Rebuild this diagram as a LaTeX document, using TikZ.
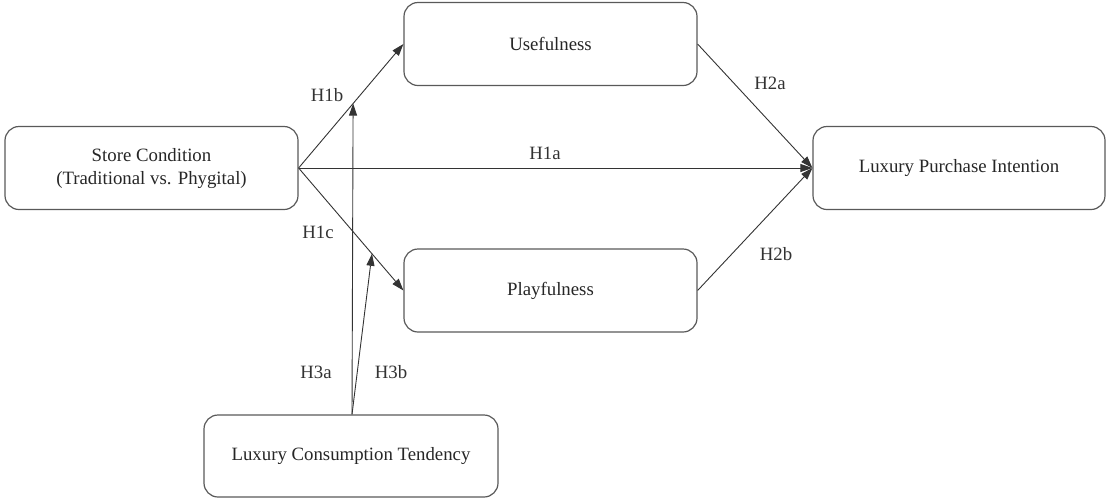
\documentclass[tikz,border=0pt]{standalone}
\usepackage{fontspec}
\setmainfont{Liberation Serif}
\newfontfamily\tnr{Liberation Serif}
\usetikzlibrary{arrows.meta,calc}
\begin{document}
\begin{tikzpicture}[x=1pt,y=-1pt,
  box/.style={draw=black!65,line width=1.2pt,rounded corners=14pt,inner sep=0pt,
    minimum width=293pt,minimum height=83pt,align=center,font=\tnr\fontsize{18.8}{23}\selectfont,text=black!85},
  arr/.style={draw=black!80,line width=0.9pt,-{Triangle[length=12pt,width=8pt]}},
  lab/.style={font=\tnr\fontsize{18.8}{23}\selectfont,text=black!80,inner sep=0pt}]
\useasboundingbox (0,0) rectangle (1107,499);
\node[box] (sc) at (151.5,168) {Store Condition\\(Traditional vs. Phygital)};
\node[box] (u) at (550.5,44) {Usefulness};
\node[box] (p) at (550.5,290.5) {Playfulness};
\node[box,minimum width=292pt] (lpi) at (959,168) {Luxury Purchase Intention};
\node[box,minimum width=294pt,minimum height=82pt] (lct) at (351,456) {Luxury Consumption Tendency};
\draw[arr] (sc.east) -- (u.west);
\draw[arr] (sc.east) -- (p.west);
\draw[arr] (sc.east) -- (lpi.west);
\draw[arr] (u.east) -- (lpi.west);
\draw[arr] (p.east) -- (lpi.west);
\coordinate (m1) at ($(sc.east)!0.52!(u.west)$);
\coordinate (m2) at ($(sc.east)!0.70!(p.west)$);
\coordinate (ls) at ($(lct.north)+(1,0)$);
\draw[arr] (ls) -- (m1);
\draw[arr] (ls) -- (m2);
\node[lab] (h1b) at (327,95) {H1b};
\node[lab] (h1a) at (545,153) {H1a};
\node[lab] (h1c) at (318,232) {H1c};
\node[lab] (h2a) at (770,83) {H2a};
\node[lab] (h2b) at (776,254) {H2b};
\node[lab] (h3a) at (316,372) {H3a};
\node[lab] (h3b) at (391,372) {H3b};
\end{tikzpicture}
\end{document}
